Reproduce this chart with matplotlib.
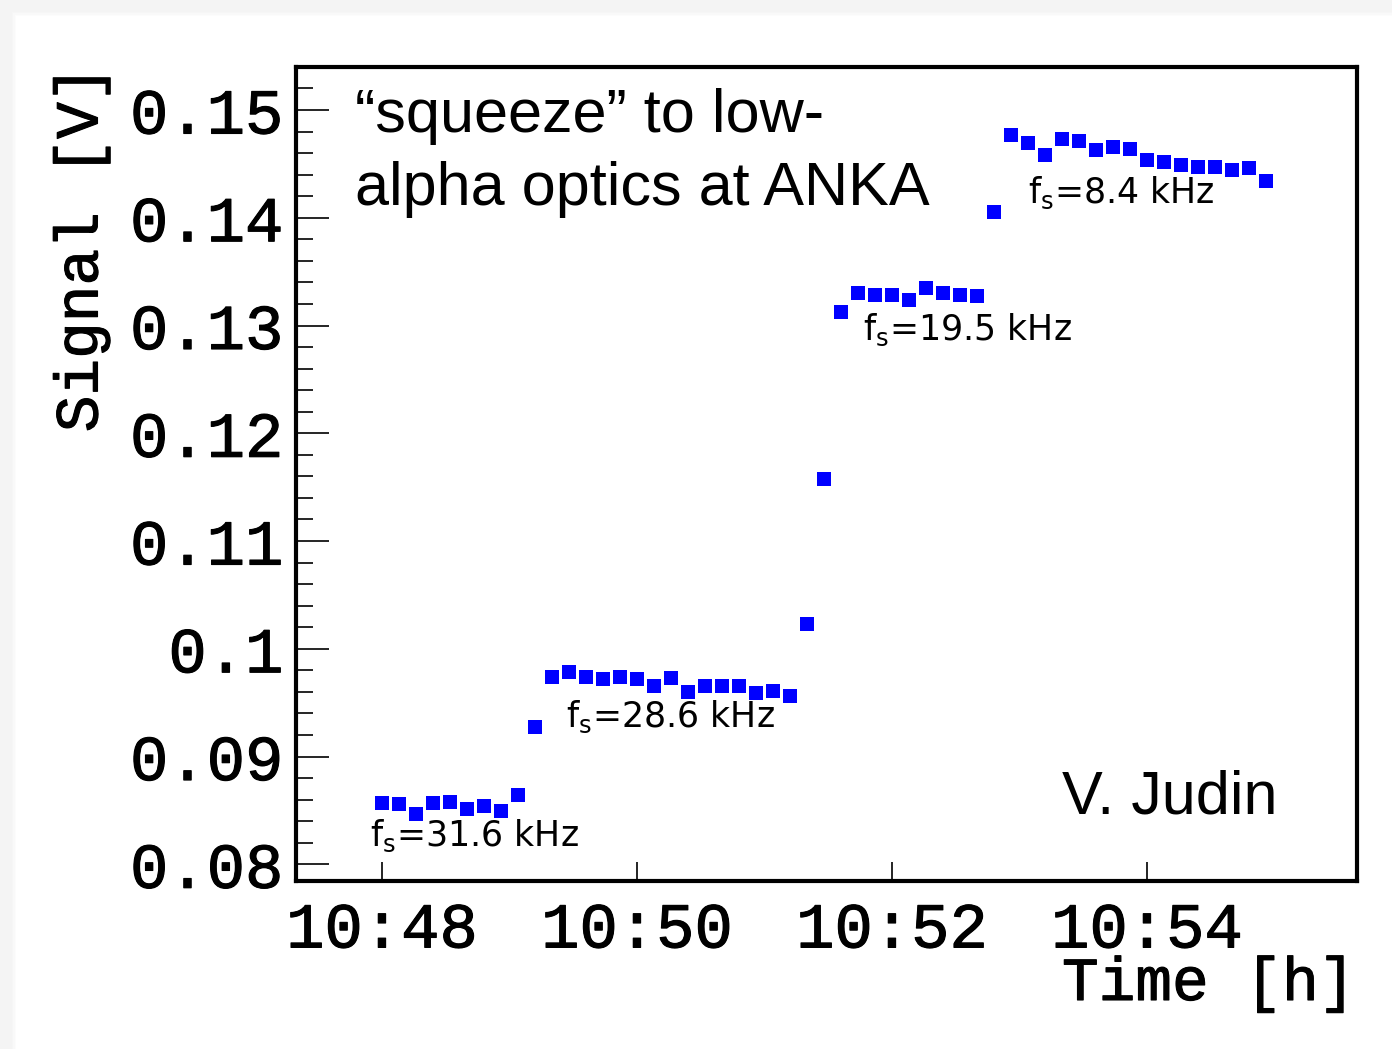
import matplotlib
matplotlib.use('Agg')
import matplotlib.pyplot as plt
import matplotlib.ticker as mtick
import matplotlib.patheffects as pe
from matplotlib.patches import Rectangle

# seconds after 10:48:00, one reading every 8 s
t_sec = [0, 8, 16, 24, 32, 40, 48, 56, 64, 72, 80, 88, 96, 104, 112, 120, 128,
         136, 144, 152, 160, 168, 176, 184, 192, 200, 208, 216, 224, 232, 240,
         248, 256, 264, 272, 280, 288, 296, 304, 312, 320, 328, 336, 344, 352,
         360, 368, 376, 384, 392, 400, 408, 416]
signal = [0.0857, 0.0856, 0.0847, 0.0857, 0.0858, 0.0851, 0.0854, 0.0849, 0.0864,
          0.0927,
          0.0974, 0.0978, 0.0974, 0.0972, 0.0974, 0.0972, 0.0965, 0.0973, 0.0960,
          0.0965, 0.0965, 0.0965, 0.0959, 0.0961, 0.0956,
          0.1023, 0.1158, 0.1313,
          0.1330, 0.1328, 0.1328, 0.1324, 0.1335, 0.1330, 0.1328, 0.1327,
          0.1405,
          0.1477, 0.1469, 0.1458, 0.1473, 0.1471, 0.1463, 0.1466, 0.1464, 0.1454,
          0.1452, 0.1449, 0.1447, 0.1447, 0.1444, 0.1446, 0.1434]

fs_labels = [r'f$_{\rm s}$=31.6 kHz', r'f$_{\rm s}$=28.6 kHz',
             r'f$_{\rm s}$=19.5 kHz', r'f$_{\rm s}$=8.4 kHz']
fs_x = [-5.6, 86.6, 226.1, 303.8]
fs_y = [0.0817, 0.0927, 0.1287, 0.1414]

plt.rcParams['mathtext.fontset'] = 'dejavusans'
mono = 'Liberation Mono'
thick = [pe.withStroke(linewidth=0.8, foreground='black')]

fig = plt.figure(figsize=(13.92, 10.49), dpi=100)
fig.patch.set_facecolor('#f4f4f4')
# white card with a soft shadow at top/left
for i, a in enumerate([0.2, 0.4, 0.65, 1.0]):
    off = (4 - i) * 1.2
    fig.patches.append(Rectangle(((17 - off) / 1392, 0), 1, 1 - (17 - off) / 1049,
                                 transform=fig.transFigure, facecolor='white',
                                 alpha=a, edgecolor='none', zorder=-10))

ax = fig.add_axes([296/1392, 1-881/1049, (1357-296)/1392, (881-67)/1049])
ax.plot(t_sec, signal, linestyle='none', marker='s', markersize=9.4,
        color='#0000ff', markeredgewidth=0)

ax.set_xlim(-40.5, 458.8)
ax.set_ylim(0.07845, 0.15399)

ax.xaxis.set_major_locator(mtick.FixedLocator([0, 120, 240, 360]))
ax.xaxis.set_major_formatter(mtick.FuncFormatter(
    lambda v, p: '10:%02d' % (48 + int(round(v)) // 60)))
ax.yaxis.set_major_locator(mtick.MultipleLocator(0.01))
ax.yaxis.set_minor_locator(mtick.MultipleLocator(0.002))
ax.yaxis.set_major_formatter(mtick.FuncFormatter(
    lambda v, p: ('%.2f' % v).rstrip('0') if abs(v - 0.1) < 1e-9 else '%.2f' % v))

ax.tick_params(axis='both', which='both', direction='in', color='black')
ax.tick_params(axis='y', which='major', length=24, width=1.2, pad=9)
ax.tick_params(axis='y', which='minor', length=12, width=1.2)
ax.tick_params(axis='x', which='major', length=14, width=1.2, pad=14)
for lab in ax.get_xticklabels() + ax.get_yticklabels():
    lab.set_fontfamily(mono)
    lab.set_fontweight('normal')
    lab.set_fontsize(46)
    lab.set_path_effects(thick)
for s in ax.spines.values():
    s.set_linewidth(3)

for lbl, x, y in zip(fs_labels, fs_x, fs_y):
    ax.text(x, y, lbl, fontsize=25, family='DejaVu Sans', color='black',
            va='baseline', ha='left')

fig.text(355/1392, 1-132/1049, '\u201csqueeze\u201d to low-', fontsize=44,
         family='Liberation Sans', va='baseline', ha='left')
fig.text(355/1392, 1-205/1049, 'alpha optics at ANKA', fontsize=44,
         family='Liberation Sans', va='baseline', ha='left')
fig.text(1062/1392, 1-813/1049, 'V. Judin', fontsize=44,
         family='Liberation Sans', va='baseline', ha='left')

fig.text(1355/1392, 1-1000/1049, 'Time [h]', fontsize=44, family=mono,
         va='baseline', ha='right', path_effects=thick)
fig.text(82/1392, 1-66/1049, 'Signal [V]', fontsize=44, family=mono,
         va='top', ha='center', rotation=90, path_effects=thick)

fig.savefig('out.png', dpi=100, facecolor=fig.get_facecolor())
